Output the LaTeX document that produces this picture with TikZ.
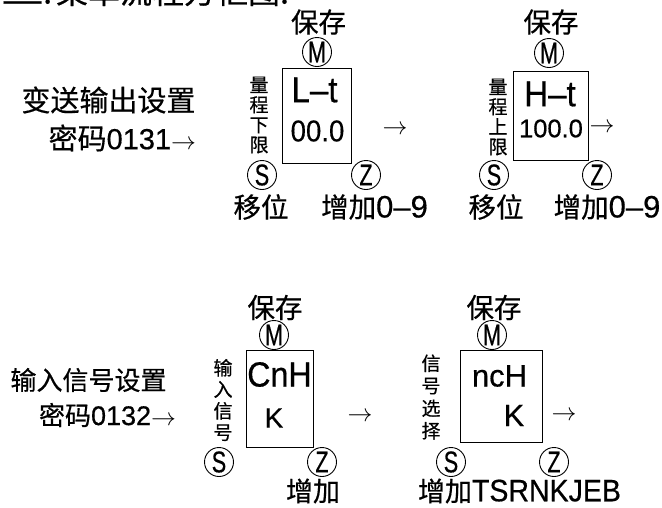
\documentclass[tikz,border=0pt]{standalone}
\usepackage{fontspec}
\setmainfont{Liberation Sans}[FakeBold=0.5]
\newfontfamily\cjk{Noto Sans CJK SC}[FakeBold=0.5]
\newfontfamily\cond{Liberation Sans}[FakeStretch=0.72,FakeBold=0.5]
\newfontfamily\narr{Liberation Sans}[FakeStretch=0.92,FakeBold=0.5]
\newcommand\fs[1]{\fontsize{#1}{#1}\selectfont}
\begin{document}
\begin{tikzpicture}[x=1pt,y=-1pt,
  txt/.style={inner sep=0pt, outer sep=0pt},
  boxnode/.style={draw, line width=0.9pt, inner sep=0pt, outer sep=0pt},
  key/.style={draw, circle, line width=0.9pt, minimum size=29pt, inner sep=0pt, font=\cond\fs{30}},
  vlab/.style={inner sep=0pt, align=center, font=\cjk\fontsize{19}{#1}\selectfont},
  arr/.style={inner sep=0pt, font=\fs{26}}]
\useasboundingbox (0,0) rectangle (662,507);
\fill[white] (0,0) rectangle (662,507);

% title (partly cut off)
\node[txt, anchor=base west] (title) at (1,3.5) {\cjk\fs{32}\scalebox{1.35}[1]{三}\hspace{-1pt}.\hspace{4pt}菜单流程方框图:};

% ---------- top row ----------
\node[txt, font=\cjk\fs{29}] (t1a) at (108.5,100) {变送输出设置};
\node[txt, anchor=east] (t1b) at (196,138) {{\cjk\fs{29}密码}{\fs{29}0131}{\fs{29}$\rightarrow$}};

\node[boxnode, minimum width=69pt, minimum height=95pt] (b1) at (316.5,115.5) {};
\node[txt, font=\narr\fs{36}] (b1t) at (314.5,90) {L–t};
\node[txt, font=\narr\fs{30}] (b1v) at (317.5,131) {00.0};
\node[vlab=20] (v1) at (259,115) {量\\程\\下\\限};
\node[key] (m1) at (317,52) {M};
\node[key] (s1) at (262,175) {S};
\node[key] (z1) at (366,175) {Z};
\node[txt, font=\cjk\fs{27.5}] (k1) at (318.5,22) {保存};
\node[txt, font=\cjk\fs{27.5}] (sh1) at (261,207) {移位};
\node[txt] (z1l) at (374.5,207) {{\cjk\fs{27.5}增加}{\fs{31}0–9}};

\node[arr] (a1) at (395,130) {$\rightarrow$};

\node[boxnode, minimum width=75pt, minimum height=89pt] (b2) at (550.5,115.5) {};
\node[txt, font=\narr\fs{36}] (b2t) at (550,94) {H–t};
\node[txt, font=\fs{25.5}] (b2v) at (551,128.5) {100.0};
\node[vlab=20] (v2) at (498,117) {量\\程\\上\\限};
\node[key] (m2) at (549,53) {M};
\node[key] (s2) at (494,175) {S};
\node[key] (z2) at (597,175) {Z};
\node[txt, font=\cjk\fs{27.5}] (k2) at (551,22) {保存};
\node[txt, font=\cjk\fs{27.5}] (sh2) at (496,207) {移位};
\node[txt] (z2l) at (607,207) {{\cjk\fs{27.5}增加}{\fs{31}0–9}};

\node[arr] (a2) at (602,128) {$\rightarrow$};

% ---------- bottom row ----------
\node[txt, font=\cjk\fs{26}] (t2a) at (88.5,380) {输入信号设置};
\node[txt, anchor=east] (t2b) at (176,415) {{\cjk\fs{26}密码}{\fs{27}0132}{\fs{26}$\rightarrow$}};

\node[boxnode, minimum width=67pt, minimum height=97pt] (b3) at (279.5,398.5) {};
\node[txt, font=\narr\fs{35}] (b3t) at (279.5,374.5) {CnH};
\node[txt, font=\fs{28}] (b3v) at (274,418) {K};
\node[vlab=21.5] (v3) at (223,400) {输\\入\\信\\号};
\node[key] (m3) at (274,335) {M};
\node[key] (s3) at (219,462) {S};
\node[key] (z3) at (322,462) {Z};
\node[txt, font=\cjk\fs{27.5}] (k3) at (275,307.5) {保存};
\node[txt, font=\cjk\fs{27}] (z3l) at (313,491) {增加};

\node[arr] (a3) at (360,417) {$\rightarrow$};

\node[boxnode, minimum width=82pt, minimum height=92pt] (b4) at (501,396) {};
\node[txt, font=\fs{31}] (b4t) at (499.5,376) {ncH};
\node[txt, font=\fs{31}] (b4v) at (514,415.5) {K};
\node[vlab=22.5] (v4) at (431,397) {信\\号\\选\\择};
\node[key] (m4) at (492,335) {M};
\node[key] (s4) at (451,462) {S};
\node[key] (z4) at (554,462) {Z};
\node[txt, font=\cjk\fs{27.5}] (k4) at (494,307.5) {保存};
\node[txt, anchor=west] (z4l) at (418,491) {{\cjk\fs{27}增加}{\narr\fs{31}TSRNKJEB}};

\node[arr] (a4) at (564,416) {$\rightarrow$};
\end{tikzpicture}
\end{document}
